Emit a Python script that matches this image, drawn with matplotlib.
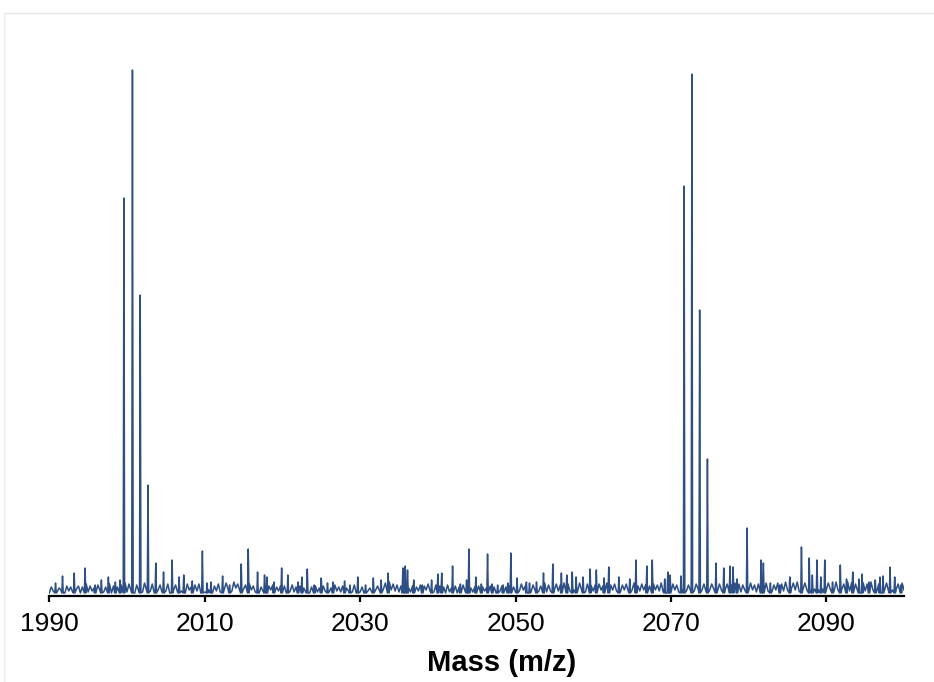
import numpy as np
import matplotlib
matplotlib.use('Agg')
import matplotlib.pyplot as plt
from matplotlib.lines import Line2D

# Axis ticks
x_ticks = [1990, 2010, 2030, 2050, 2070, 2090]

# Noise floor, sampled every 0.25 Da from 1990 to 2100 (one row per 10 Da)
floor_start = 1990.0
floor_step = 0.25
floor_levels = [
    3, 9, 5, 11, 4, 8, 6, 12, 3, 10, 5, 9, 4, 11, 7, 10, 3, 9, 6, 12,
    4, 10, 5, 8, 3, 11, 6, 10, 4, 9, 5, 12, 3, 10, 6, 9, 4, 11, 5, 13,
    4, 12, 6, 10, 3, 11, 5, 9, 4, 13, 6, 10, 5, 12, 3, 9, 6, 11, 4, 10,
    5, 12, 3, 9, 6, 11, 4, 13, 5, 10, 3, 12, 6, 9, 4, 11, 5, 12, 3, 10,
    4, 11, 6, 9, 3, 10, 5, 12, 4, 9, 6, 13, 7, 12, 5, 14, 8, 12, 6, 13,
    7, 11, 5, 12, 6, 10, 4, 11, 3, 9, 5, 12, 4, 10, 6, 11, 3, 9, 5, 10,
    4, 10, 3, 8, 5, 11, 4, 9, 3, 10, 5, 8, 4, 11, 3, 9, 5, 10, 4, 8,
    3, 10, 5, 9, 4, 8, 3, 11, 5, 9, 4, 10, 3, 8, 5, 9, 4, 11, 3, 10,
    4, 9, 3, 10, 5, 8, 4, 11, 6, 10, 5, 12, 7, 13, 8, 14, 6, 12, 5, 11,
    4, 10, 3, 9, 5, 8, 4, 10, 3, 9, 5, 11, 4, 10, 6, 12, 5, 10, 4, 11,
    4, 10, 5, 9, 3, 11, 4, 8, 5, 10, 3, 9, 4, 11, 5, 10, 3, 8, 4, 9,
    3, 10, 4, 9, 5, 8, 3, 10, 4, 9, 3, 8, 5, 10, 4, 9, 3, 10, 5, 9,
    4, 11, 5, 12, 6, 10, 5, 13, 4, 11, 6, 12, 5, 10, 6, 13, 4, 11, 5, 12,
    6, 12, 5, 11, 6, 13, 4, 12, 5, 11, 6, 12, 5, 13, 6, 11, 4, 12, 6, 10,
    5, 11, 4, 12, 6, 10, 5, 13, 4, 11, 6, 12, 5, 10, 4, 11, 6, 12, 5, 11,
    6, 13, 4, 10, 5, 12, 6, 11, 4, 10, 5, 12, 6, 11, 5, 13, 4, 12, 6, 11,
    5, 12, 6, 11, 4, 13, 6, 12, 5, 11, 6, 13, 5, 12, 7, 14, 6, 12, 5, 13,
    6, 12, 7, 13, 5, 12, 6, 14, 7, 12, 5, 11, 6, 13, 5, 12, 4, 11, 6, 12,
    5, 13, 6, 11, 4, 12, 5, 10, 6, 13, 5, 12, 4, 11, 6, 13, 7, 12, 5, 14,
    6, 12, 7, 13, 6, 14, 5, 12, 7, 13, 6, 12, 5, 14, 7, 13, 6, 12, 7, 14,
    6, 13, 7, 12, 5, 14, 6, 13, 7, 12, 6, 14, 5, 13, 7, 12, 6, 14, 7, 13,
    5, 12, 7, 14, 6, 13, 5, 12, 7, 14, 6, 13, 5, 12, 6, 14, 7, 12, 5, 13,
    6,
]

# Isotope clusters
main_mz = [1999.6, 2000.7, 2001.7, 2002.7, 2071.7, 2072.7, 2073.7, 2074.7, 2079.8]
main_int = [398, 526, 301, 111, 410, 522, 286, 137, 68]

# Minor peaks above the noise
minor_mz = [
    1990.8, 1991.7, 1993.2, 1994.6, 1995.9, 1996.7, 1997.6, 1998.5, 1999.1,
    2003.7, 2004.7, 2005.8, 2006.7, 2007.3, 2008.4, 2009.7, 2010.3, 2010.8,
    2012.3, 2013.2, 2014.7, 2015.6, 2016.8, 2017.7, 2018.0, 2018.9, 2019.9,
    2020.7, 2022.0, 2022.5, 2023.2, 2024.1, 2025.0, 2025.8, 2026.5, 2028.0,
    2028.7, 2029.7, 2030.7, 2031.7, 2032.7, 2033.6, 2035.5, 2035.8, 2036.1,
    2036.9, 2038.0, 2039.2, 2040.0, 2040.5, 2041.9, 2042.9, 2043.7, 2044.0,
    2044.9, 2045.6, 2046.4, 2047.0, 2047.7, 2048.4, 2049.0, 2049.4, 2050.2,
    2051.4, 2051.8, 2052.7, 2053.6, 2054.8, 2055.9, 2056.6, 2057.3, 2057.8,
    2058.7, 2059.6, 2060.4, 2061.4, 2062.0, 2063.3, 2064.7, 2065.5, 2066.9,
    2067.6, 2069.2, 2069.6, 2069.9, 2071.3, 2075.8, 2076.8, 2077.6, 2078.0,
    2078.5, 2081.6, 2081.9, 2082.8, 2084.0, 2085.3, 2086.8, 2087.8, 2088.2,
    2088.8, 2089.3, 2089.8, 2090.8, 2091.8, 2092.6, 2093.4, 2094.2, 2094.6,
    2095.5, 2096.3, 2096.9, 2097.3, 2098.2, 2098.8, 2099.6,
]
minor_int = [
    13, 20, 23, 28, 11, 16, 19, 14, 16,
    33, 24, 36, 19, 21, 15, 45, 13, 14,
    20, 11, 32, 47, 24, 21, 19, 14, 28,
    21, 14, 19, 27, 11, 18, 13, 14, 15,
    11, 19, 11, 18, 16, 23, 28, 30, 26,
    16, 11, 16, 22, 23, 30, 12, 16, 47,
    19, 12, 42, 12, 11, 11, 13, 43, 18,
    14, 13, 14, 23, 32, 23, 21, 24, 19,
    19, 27, 26, 18, 29, 19, 17, 36, 30,
    36, 17, 24, 21, 20, 33, 28, 30, 29,
    17, 36, 33, 13, 11, 19, 49, 38, 21,
    36, 19, 36, 14, 31, 17, 24, 17, 22,
    14, 16, 19, 20, 29, 19, 11,
]

LINE_COLOR = '#2d4f85'
PEAK_HALF_WIDTH = 0.09
PEAK_BASE = 3


def build_trace():
    peak_mz = np.array(main_mz + minor_mz)
    peak_int = np.array(main_int + minor_int, dtype=float)

    floor_mz = floor_start + floor_step * np.arange(len(floor_levels))
    floor_int = np.array(floor_levels, dtype=float)
    # drop floor samples that would land inside a peak
    keep = np.array([np.min(np.abs(peak_mz - m)) > PEAK_HALF_WIDTH * 1.2 for m in floor_mz])
    mz = list(floor_mz[keep])
    inten = list(floor_int[keep])

    for m, h in zip(peak_mz, peak_int):
        mz += [m - PEAK_HALF_WIDTH, m, m + PEAK_HALF_WIDTH]
        inten += [PEAK_BASE, h, PEAK_BASE]

    order = np.argsort(mz)
    return np.array(mz)[order], np.array(inten)[order]


def main():
    plt.rcParams['font.family'] = ['Liberation Sans', 'DejaVu Sans']

    fig = plt.figure(figsize=(9.34, 6.82), dpi=100)
    ax = fig.add_axes([0.0528, 0.1261, 0.9151, 0.8152])

    mz, inten = build_trace()
    ax.plot(mz, inten, color=LINE_COLOR, linewidth=1.1)

    ax.set_xlim(1990, 2100)
    ax.set_ylim(0, 556)
    ax.set_xticks(x_ticks)
    ax.set_xticklabels([str(t) for t in x_ticks])
    ax.set_yticks([])

    for side in ('left', 'right', 'top'):
        ax.spines[side].set_visible(False)
    ax.spines['bottom'].set_linewidth(1.6)
    ax.spines['bottom'].set_color('black')
    ax.tick_params(axis='x', direction='out', length=4.5, width=1.6,
                   labelsize=19, pad=7, colors='black')

    fig.text(501.5 / 934, 11 / 682, 'Mass (m/z)', ha='center', va='baseline',
             fontsize=21, fontweight='bold')

    # faint frame along the top and left edges
    fig.add_artist(Line2D([4 / 934, 1.0], [1 - 12.5 / 682] * 2,
                          transform=fig.transFigure, color='#e6e6e6', linewidth=1.0))
    fig.add_artist(Line2D([4 / 934] * 2, [0.0, 1 - 12.5 / 682],
                          transform=fig.transFigure, color='#ececec', linewidth=1.0))

    fig.savefig('out.png', dpi=100, facecolor='white')


if __name__ == '__main__':
    main()
